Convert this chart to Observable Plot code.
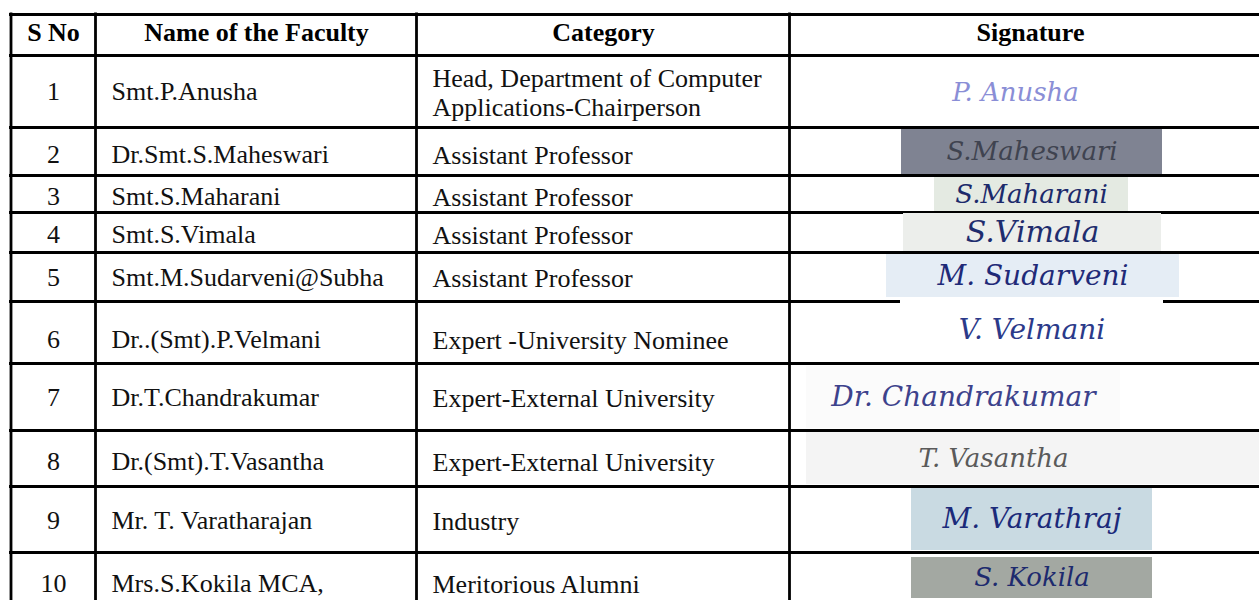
<!DOCTYPE html>
<html>
<head>
<meta charset="utf-8">
<script src="https://cdn.jsdelivr.net/npm/d3@7"></script>
<script src="https://cdn.jsdelivr.net/npm/@observablehq/plot@0.6"></script>
<style>
  html, body { margin: 0; padding: 0; background: #fff; overflow: hidden; }
</style>
</head>
<body>
<div id="chart"></div>
<script>
// ---- data ----
const headers = ["S No", "Name of the Faculty", "Category", "Signature"];
const serialNos = ["1", "2", "3", "4", "5", "6", "7", "8", "9", "10"];
const facultyNames = [
  "Smt.P.Anusha",
  "Dr.Smt.S.Maheswari",
  "Smt.S.Maharani",
  "Smt.S.Vimala",
  "Smt.M.Sudarveni@Subha",
  "Dr..(Smt).P.Velmani",
  "Dr.T.Chandrakumar",
  "Dr.(Smt).T.Vasantha",
  "Mr. T. Varatharajan",
  "Mrs.S.Kokila MCA,"
];
const categories = [
  "Head, Department of Computer\nApplications-Chairperson",
  "Assistant Professor",
  "Assistant Professor",
  "Assistant Professor",
  "Assistant Professor",
  "Expert -University Nominee",
  "Expert-External University",
  "Expert-External University",
  "Industry",
  "Meritorious Alumni"
];
const signatures = [
  "P. Anusha",
  "S.Maheswari",
  "S.Maharani",
  "S.Vimala",
  "M. Sudarveni",
  "V. Velmani",
  "Dr. Chandrakumar",
  "T. Vasantha",
  "M. Varathraj",
  "S. Kokila"
];

// ---- layout (positions / styles) ----
const W = 1259, H = 600;
const colEdges = [10.5, 95, 416, 789];
const rowEdges = [14, 55, 127, 175, 212, 252, 301, 363, 430, 486, 552];
const headerX = [53, 256, 603, 1030];
const snoX = 53, nameX = 111, catX = 432;
const headerY = 32.5;
const rowTextY = [91.5, 154.5, 196.5, 234.5, 277.5, 339.5, 397.5, 461.5, 520, 583];
const sigBox = [
  {x1: 850, x2: 1180, y1: 60, y2: 124, fill: "#ffffff", ink: "#8a8ed6", size: 26},
  {x1: 901, x2: 1162, y1: 129, y2: 174, fill: "#7f8392", ink: "#3f4350", size: 26},
  {x1: 934, x2: 1128, y1: 177, y2: 211, fill: "#e4eae2", ink: "#1c2a6b", size: 26},
  {x1: 903, x2: 1161, y1: 213, y2: 251, fill: "#eceeeb", ink: "#1f2d6e", size: 30},
  {x1: 886, x2: 1179, y1: 254, y2: 297, fill: "#e5edf5", ink: "#1f2a78", size: 28},
  {x1: 900, x2: 1163, y1: 299, y2: 361, fill: "#ffffff", ink: "#2b3a8a", size: 28},
  {x1: 806, x2: 1120, y1: 366, y2: 428, fill: "#fbfbfb", ink: "#3d428c", size: 28},
  {x1: 806, x2: 1259, y1: 432, y2: 484, fill: "#f4f4f4", ink: "#5a5a5a", size: 26},
  {x1: 911, x2: 1152, y1: 488, y2: 550, fill: "#c9dae2", ink: "#1b2a7a", size: 28},
  {x1: 911, x2: 1152, y1: 557, y2: 598, fill: "#a3a8a2", ink: "#1d2a6e", size: 26}
];

const rows = serialNos.map((s, i) => ({
  sno: s,
  name: facultyNames[i],
  cat: categories[i],
  sig: signatures[i],
  y: rowTextY[i],
  box: sigBox[i]
}));
const headerRows = headers.map((h, i) => ({h, x: headerX[i]}));

const FONT = "'Liberation Serif', 'Times New Roman', serif";

const chart = Plot.plot({
  width: W,
  height: H,
  margin: 0,
  x: {domain: [0, W], range: [0, W], axis: null},
  y: {domain: [0, H], range: [0, H], axis: null},
  color: {type: "identity"},
  style: {background: "#ffffff", fontFamily: FONT},
  marks: [
    Plot.ruleY(rowEdges, {y: d => d, x1: 9, x2: W, stroke: "#000", strokeWidth: 2.8}),
    Plot.ruleX(colEdges, {x: d => d, y1: 12.6, y2: H, stroke: "#000", strokeWidth: 2.8}),
    Plot.rect(rows, {x1: d => d.box.x1, x2: d => d.box.x2, y1: d => d.box.y1, y2: d => d.box.y2, fill: d => d.box.fill}),
    Plot.text(headerRows, {x: "x", y: headerY, text: "h", fontSize: 26, fontWeight: "bold", fontFamily: FONT, fill: "#000", textAnchor: "middle", lineAnchor: "middle"}),
    Plot.text(rows, {x: snoX, y: "y", text: "sno", fontSize: 26, fontFamily: FONT, fill: "#111", textAnchor: "middle", lineAnchor: "middle"}),
    Plot.text(rows, {x: nameX, y: "y", text: "name", fontSize: 26, fontFamily: FONT, fill: "#111", textAnchor: "start", lineAnchor: "middle"}),
    Plot.text(rows, {x: catX, y: "y", text: "cat", fontSize: 26, fontFamily: FONT, fill: "#111", textAnchor: "start", lineAnchor: "middle", lineHeight: 1.12}),
    Plot.text(rows, {x: d => (d.box.x1 + Math.min(d.box.x2, 1180)) / 2, y: d => (d.box.y1 + d.box.y2) / 2, text: "sig", fontSize: d => d.box.size, fontStyle: "italic", fontFamily: "'DejaVu Serif', serif", fill: d => d.box.ink, textAnchor: "middle", lineAnchor: "middle"})
  ]
});
document.getElementById("chart").appendChild(chart);
</script>
</body>
</html>
